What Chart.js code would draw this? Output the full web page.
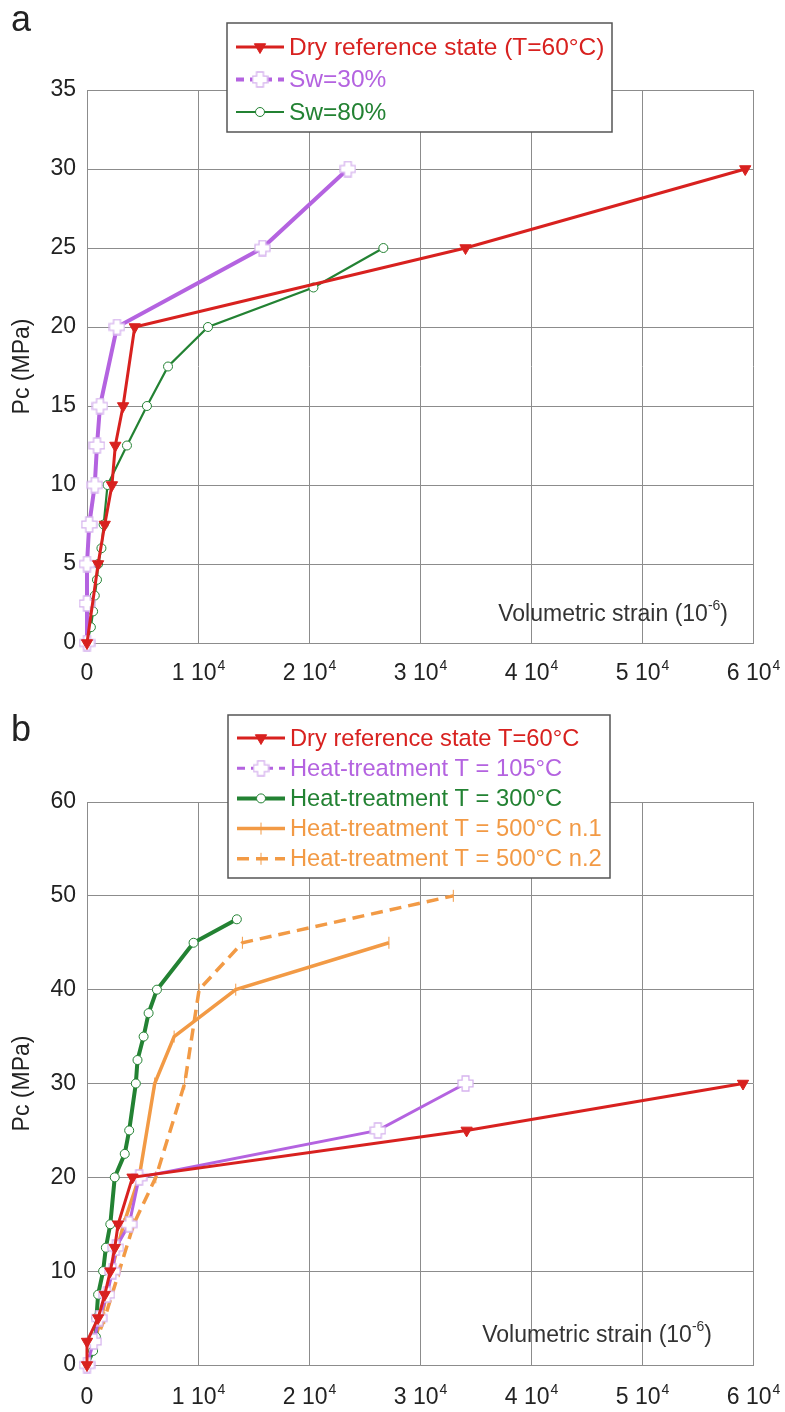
<!DOCTYPE html>
<html lang="en">
<head>
  <meta charset="UTF-8" />
  <title>Pc vs volumetric strain</title>
  <script src="https://cdn.jsdelivr.net/npm/chart.js"></script>
  <style>
    body { margin: 0; background: #fff; font-family: "Liberation Sans", Arial, sans-serif; }
    .panel { position: relative; width: 785px; }
    .tag { position: absolute; left: 11px; font-size: 36px; line-height: 36px; color: #222; }
  </style>
</head>
<body>
  <div class="panel" style="height:690px">
    <canvas id="chart-a" width="785" height="690"></canvas>
    <div class="tag" style="top:1px">a</div>
  </div>
  <div class="panel" style="height:722px">
    <canvas id="chart-b" width="785" height="722"></canvas>
    <div class="tag" style="top:21px">b</div>
  </div>

  <script>
    // panel a - saturation
    const aDryX = [0, 1000, 1600, 2250, 2550, 3250, 4300, 34100, 59300];
    const aDryY = [0, 5, 7.5, 10, 12.5, 15, 20, 25, 30];
    const aSw30X = [0, 0, 0, 200, 700, 900, 1170, 2700, 15800, 23500];
    const aSw30Y = [0, 2.5, 5, 7.5, 10, 12.5, 15, 20, 25, 30];
    const aSw80X = [0, 350, 550, 700, 900, 1000, 1300, 1500, 1850, 3600, 5400, 7300, 10900, 20400, 26700];
    const aSw80Y = [0, 1, 2, 3, 4, 5, 6, 7.5, 10, 12.5, 15, 17.5, 20, 22.5, 25];

    // panel b - heat treatment
    const bDryX = [0, 0, 1000, 1600, 2100, 2500, 2800, 4100, 34200, 59100];
    const bDryY = [0, 2.5, 5, 7.5, 10, 12.5, 15, 20, 25, 30];
    const b105X = [0, 600, 1100, 1800, 2300, 2600, 3800, 4700, 26200, 34100];
    const b105Y = [0, 2.5, 5, 7.5, 10, 12.5, 15, 20, 25, 30];
    const b300X = [0, 550, 800, 850, 1000, 1450, 1700, 2100, 2500, 3400, 3800, 4400, 4550, 5100, 5550, 6300, 9600, 13500];
    const b300Y = [0, 1.5, 3, 5, 7.5, 10, 12.5, 15, 20, 22.5, 25, 30, 32.5, 35, 37.5, 40, 45, 47.5];
    const b500aX = [0, 1300, 2200, 3300, 4700, 6100, 7850, 13400, 27200];
    const b500aY = [0, 5, 10, 15, 20, 30, 35, 40, 45];
    const b500bX = [0, 1600, 2900, 4200, 6200, 8800, 10100, 14000, 33000];
    const b500bY = [0, 5, 10, 15, 20, 30, 40, 45, 50];

    const xTicks = [0, 10000, 20000, 30000, 40000, 50000, 60000];
    const xTickMant = ['0', '1 10', '2 10', '3 10', '4 10', '5 10', '6 10'];

    const RED = '#d8211f', PURPLE = '#b463e0', GREEN = '#238233', ORANGE = '#f29a45';
    const FONT = '"Liberation Sans", Arial, sans-serif';
    const pts = (xs, ys) => xs.map((x, i) => ({ x: x, y: ys[i] }));

    // white plus with purple outline
    function plusMarker(size) {
      const c = document.createElement('canvas');
      c.width = size; c.height = size;
      const g = c.getContext('2d');
      const m = size / 2, a = size * 0.2, e = size / 2 - 1;
      g.beginPath();
      g.moveTo(m - a, m - e); g.lineTo(m + a, m - e); g.lineTo(m + a, m - a); g.lineTo(m + e, m - a);
      g.lineTo(m + e, m + a); g.lineTo(m + a, m + a); g.lineTo(m + a, m + e); g.lineTo(m - a, m + e);
      g.lineTo(m - a, m + a); g.lineTo(m - e, m + a); g.lineTo(m - e, m - a); g.lineTo(m - a, m - a);
      g.closePath();
      g.fillStyle = '#fff'; g.fill();
      g.strokeStyle = '#d6b3ee'; g.lineWidth = 1.3; g.stroke();
      return c;
    }
    const plus = plusMarker(17);

    function dryDs(label, xs, ys) {
      return { label, data: pts(xs, ys), borderColor: RED, borderWidth: 3,
        pointStyle: 'triangle', pointRotation: 180, pointRadius: 6.5,
        pointBackgroundColor: RED, pointBorderColor: RED, pointBorderWidth: 1 };
    }
    function purpleDs(label, xs, ys, w) {
      return { label, data: pts(xs, ys), borderColor: PURPLE, borderWidth: w,
        pointStyle: plus, pointRadius: 8, legendDash: [8, 6],
        pointBackgroundColor: '#fff', pointBorderColor: PURPLE, pointBorderWidth: 0 };
    }
    function greenDs(label, xs, ys, w) {
      return { label, data: pts(xs, ys), borderColor: GREEN, borderWidth: w,
        pointStyle: 'circle', pointRadius: 4.5,
        pointBackgroundColor: '#fff', pointBorderColor: GREEN, pointBorderWidth: 1 };
    }
    function orangeDs(label, xs, ys, dash) {
      return { label, data: pts(xs, ys), borderColor: ORANGE, borderWidth: 3.5, borderDash: dash,
        pointStyle: 'line', pointRotation: 90, pointRadius: 6,
        pointBackgroundColor: ORANGE, pointBorderColor: ORANGE, pointBorderWidth: 1 };
    }

    // legend box drawn inside the plot
    const boxLegend = {
      id: 'boxLegend',
      afterDraw(chart, args, o) {
        const ctx = chart.ctx;
        ctx.save();
        ctx.fillStyle = '#fff';
        ctx.fillRect(o.x, o.y, o.w, o.h);
        ctx.strokeStyle = '#555'; ctx.lineWidth = 1.5;
        ctx.strokeRect(o.x, o.y, o.w, o.h);
        chart.data.datasets.forEach((ds, i) => {
          const cy = o.y + o.first + i * o.row;
          const x0 = o.x + 9, x1 = o.x + 57, cx = (x0 + x1) / 2;
          ctx.strokeStyle = ds.borderColor;
          ctx.lineWidth = ds.borderWidth;
          ctx.setLineDash(ds.legendDash || ds.borderDash || []);
          ctx.beginPath(); ctx.moveTo(x0, cy); ctx.lineTo(x1, cy); ctx.stroke();
          ctx.setLineDash([]);
          ctx.fillStyle = ds.pointBackgroundColor;
          ctx.strokeStyle = ds.pointBorderColor;
          ctx.lineWidth = ds.pointBorderWidth;
          Chart.helpers.drawPoint(ctx, { pointStyle: ds.pointStyle, radius: ds.pointRadius,
            rotation: ds.pointRotation || 0, borderWidth: ds.pointBorderWidth }, cx, cy);
          ctx.fillStyle = ds.borderColor;
          ctx.font = o.font + 'px ' + FONT;
          ctx.textBaseline = 'middle';
          ctx.fillText(ds.label, o.x + 62, cy + 1);
        });
        ctx.restore();
      }
    };

    // x tick labels "n 10^4" and the "Volumetric strain (10^-6)" label inside the plot
    const strainLabel = {
      id: 'strainLabel',
      afterDraw(chart, args, o) {
        const ctx = chart.ctx;
        const big = '23px ' + FONT, small = '14px ' + FONT;
        ctx.save();
        ctx.fillStyle = '#222';
        ctx.textBaseline = 'alphabetic';
        const xs = chart.scales.x;
        xTicks.forEach((v, i) => {
          const px = xs.getPixelForValue(v);
          ctx.font = big;
          const wm = ctx.measureText(xTickMant[i]).width;
          ctx.font = small;
          const we = i === 0 ? 0 : ctx.measureText('4').width;
          const x = px - (wm + we) / 2;
          ctx.font = big; ctx.fillText(xTickMant[i], x, o.tickBase);
          if (i > 0) { ctx.font = small; ctx.fillText('4', x + wm + 1, o.tickBase - 10); }
        });

        ctx.fillStyle = '#333';
        ctx.font = big;
        const t1 = 'Volumetric strain (10', t3 = ')';
        const w1 = ctx.measureText(t1).width, w3 = ctx.measureText(t3).width;
        ctx.font = small;
        const w2 = ctx.measureText('-6').width;
        const x = o.right - (w1 + w2 + w3);
        ctx.font = big; ctx.fillText(t1, x, o.base);
        ctx.font = small; ctx.fillText('-6', x + w1, o.base - 11);
        ctx.font = big; ctx.fillText(t3, x + w1 + w2, o.base);
        ctx.restore();
      }
    };

    function makeChart(id, datasets, yMax, yStep, top, legend, label) {
      const c = document.getElementById(id);
      return new Chart(c.getContext('2d'), {
        type: 'line',
        data: { datasets: datasets.map(d => Object.assign({ clip: false, tension: 0, fill: false }, d)) },
        plugins: [boxLegend, strainLabel],
        options: {
          responsive: false,
          animation: false,
          layout: { padding: { top: top, right: 32, left: 0, bottom: 0 } },
          plugins: {
            legend: { display: false },
            tooltip: { enabled: false },
            boxLegend: legend,
            strainLabel: label
          },
          scales: {
            x: {
              type: 'linear', min: 0, max: 60000,
              afterBuildTicks: s => { s.ticks = xTicks.map(v => ({ value: v })); },
              afterFit: s => { s.height = 47; s.paddingLeft = 0; s.paddingRight = 0; },
              grid: { color: '#8c8c8c', lineWidth: 1, drawTicks: false },
              border: { color: '#8c8c8c', width: 1 },
              ticks: { display: false }
            },
            y: {
              min: 0, max: yMax,
              afterFit: s => { s.width = 87; },
              grid: { color: '#8c8c8c', lineWidth: 1, drawTicks: false },
              border: { color: '#8c8c8c', width: 1 },
              ticks: { stepSize: yStep, padding: 11, color: '#222', font: { family: FONT, size: 23 } },
              title: { display: true, text: 'Pc (MPa)', color: '#222', padding: { top: 9, bottom: 0 },
                font: { family: FONT, size: 23 } }
            }
          }
        }
      });
    }

    makeChart('chart-a', [
      dryDs('Dry reference state (T=60\u00b0C)', aDryX, aDryY),
      purpleDs('Sw=30%', aSw30X, aSw30Y, 4),
      greenDs('Sw=80%', aSw80X, aSw80Y, 2.2)
    ], 35, 5, 90,
      { x: 227, y: 23, w: 385, h: 109, first: 24, row: 32.5, font: 24.5 },
      { right: 728, base: 621, tickBase: 680 });

    makeChart('chart-b', [
      dryDs('Dry reference state T=60\u00b0C', bDryX, bDryY),
      purpleDs('Heat-treatment T = 105\u00b0C', b105X, b105Y, 3),
      greenDs('Heat-treatment T = 300\u00b0C', b300X, b300Y, 4),
      orangeDs('Heat-treatment T = 500\u00b0C n.1', b500aX, b500aY, []),
      orangeDs('Heat-treatment T = 500\u00b0C n.2', b500bX, b500bY, [12, 7])
    ], 60, 10, 112,
      { x: 228, y: 25, w: 382, h: 163, first: 23, row: 30.2, font: 23.7 },
      { right: 712, base: 652, tickBase: 714 });
  </script>
</body>
</html>
